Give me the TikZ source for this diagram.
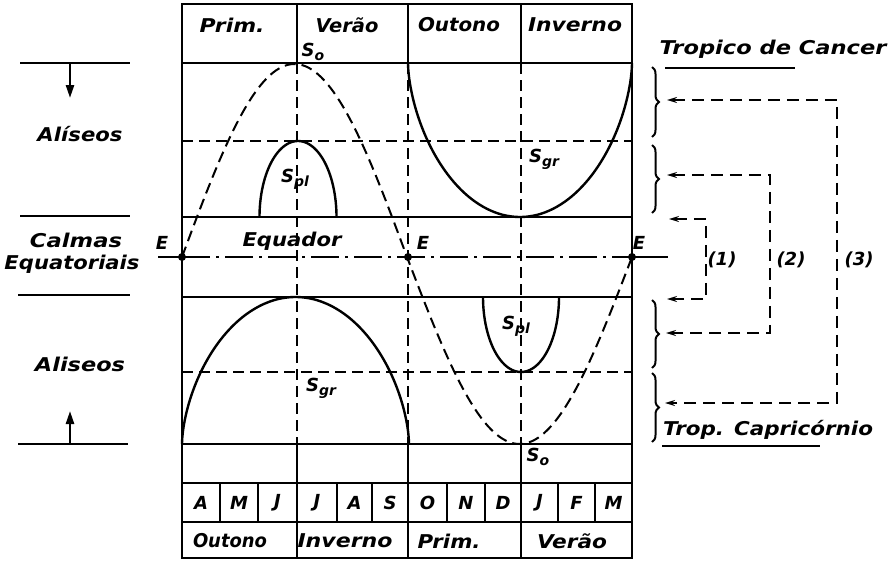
\documentclass[tikz,border=0pt]{standalone}
\usepackage{fontspec}
\setmainfont{DejaVu Sans}
\usetikzlibrary{decorations.pathreplacing,arrows.meta}
\newcommand{\rw}[2]{\resizebox{#1pt}{\height}{#2}}
\newcommand{\Ssub}[1]{S\raisebox{-4pt}{\fontsize{14}{14}\selectfont #1}}
\begin{document}
\begin{tikzpicture}[x=1pt,y=-1pt,
  frame/.style={line width=2.3pt},
  dsh/.style={line width=2pt,dash pattern=on 11pt off 6pt},
  eqline/.style={line width=2pt,dash pattern=on 28pt off 6pt on 3pt off 6pt},
  curve/.style={line width=2.4pt},
  lbl/.style={font=\fontsize{19}{21}\selectfont\bfseries\itshape, inner sep=0pt},
  slbl/.style={font=\fontsize{18}{20}\selectfont\bfseries\itshape, inner sep=0pt},
  mlbl/.style={font=\fontsize{18}{20}\selectfont\bfseries\itshape, inner sep=0pt},
  arr/.style={line width=2pt, dash pattern=on 12pt off 7pt, {Stealth[length=10pt,width=6pt]}-{Stealth[length=10pt,width=6pt]}},
  sarr/.style={line width=2.4pt, -{Triangle[length=13pt,width=8pt]}},
  brc/.style={line width=2pt, decorate, decoration={brace, amplitude=7pt}},
  dot/.style={circle, fill=black, inner sep=0pt, minimum size=8pt}
]
\useasboundingbox (0,0) rectangle (888,560);

% ---- frame and grid ----
\draw[frame] (182,4) rectangle (632,558);
\foreach \yy in {63,217,297,444,483,522} \draw[frame] (182,\yy) -- (632,\yy);
\foreach \yy in {141,372} \draw[dsh] (182,\yy) -- (632,\yy);
\foreach \xx in {297,408,521} {
  \draw[frame] (\xx,4) -- (\xx,63);
  \draw[dsh] (\xx,63) -- (\xx,444);
  \draw[frame] (\xx,444) -- (\xx,558);
}
\foreach \xx in {220,258,337,372,447,485,558,595} \draw[frame] (\xx,483) -- (\xx,522);

% ---- equator ----
\coordinate (E1) at (182,257);
\coordinate (E2) at (408,257);
\coordinate (E3) at (632,257);
\coordinate (EL) at (158,257);
\coordinate (ER) at (668,257);
\draw[eqline] (E1) -- (E3);
\draw[frame] (EL) -- (E1);
\draw[frame] (E3) -- (ER);

% ---- curves ----
\draw[dsh] plot[domain=182:632, samples=150, smooth] (\x, {257 - (\x<407 ? 193 : 187)*sin((\x-182)/450*360)});
% top S_pl
\draw[curve] plot[domain=-90:90, samples=60, smooth, variable=\t] ({298+38.5*sin(\t)}, {141+76*(1-cos(\t))});
% top S_gr
\draw[curve] plot[domain=-89.9:89.9, samples=90, smooth, variable=\t] ({520+112*sin(\t)}, {217-154*(1-pow(cos(\t),1.2))});
% bottom S_gr
\draw[curve] plot[domain=-89.9:89.9, samples=90, smooth, variable=\t] ({295.5+113.5*sin(\t)}, {297+147*(1-pow(cos(\t),1.2))});
% bottom S_pl
\draw[curve] plot[domain=-90:90, samples=60, smooth, variable=\t] ({521+38*sin(\t)}, {372-75*(1-cos(\t))});

\node[dot] (d1) at (E1) {};
\node[dot] (d2) at (E2) {};
\node[dot] (d3) at (E3) {};

% ---- labels inside ----
\node[lbl] (h1) at (232,25) {\rw{65}{Prim.}};
\node[lbl] (h2) at (347,25) {\rw{63}{Verão}};
\node[lbl] (h3) at (459,25) {\rw{82}{Outono}};
\node[lbl] (h4) at (575,25) {\rw{94}{Inverno}};
\node[lbl] (b1) at (230,541) {\rw{74}{Outono}};
\node[lbl] (b2) at (345,541) {\rw{95}{Inverno}};
\node[lbl] (b3) at (449,541) {\rw{63}{Prim.}};
\node[lbl] (b4) at (572,541) {\rw{70}{Verão}};
\foreach \xx/\m [count=\i] in {201/A,239/M,277.5/J,317/J,354.5/A,390/S,427.5/O,466/N,503/D,539.5/J,576.5/F,613.5/M}
  \node[mlbl] (m\i) at (\xx,503) {\m};
\node[lbl] (equ) at (292,241) {\rw{99}{Equador}};
\node[slbl] (eA) at (162,243) {E};
\node[slbl] (eB) at (423,243) {E};
\node[slbl] (eC) at (639,243) {E};
\node[slbl] (so1) at (313,52) {\Ssub{o}};
\node[slbl] (spl1) at (295,179) {\Ssub{pl}};
\node[slbl] (sgr1) at (544,159) {\Ssub{gr}};
\node[slbl] (sgr2) at (321,388) {\Ssub{gr}};
\node[slbl] (spl2) at (516,326) {\Ssub{pl}};
\node[slbl] (so2) at (538,457) {\Ssub{o}};

% ---- left side ----
\coordinate (L1a) at (20,63);  \coordinate (L1b) at (130,63);
\coordinate (L2a) at (20,216); \coordinate (L2b) at (130,216);
\coordinate (L3a) at (18,295); \coordinate (L3b) at (130,295);
\coordinate (L4a) at (18,444); \coordinate (L4b) at (128,444);
\draw[frame] (L1a) -- (L1b);
\draw[frame] (L2a) -- (L2b);
\draw[frame] (L3a) -- (L3b);
\draw[frame] (L4a) -- (L4b);
\coordinate (A1s) at (70,63);  \coordinate (A1e) at (70,98);
\coordinate (A2s) at (70,444); \coordinate (A2e) at (70,411);
\draw[sarr] (A1s) -- (A1e);
\draw[sarr] (A2s) -- (A2e);
\node[lbl] (al1) at (80,134) {\rw{85}{Alíseos}};
\node[lbl] (cal) at (76,240) {\rw{92}{Calmas}};
\node[lbl] (eqt) at (72,264) {\rw{135}{Equatoriais}};
\node[lbl] (al2) at (80,364) {\rw{90}{Aliseos}};

% ---- right side ----
\node[lbl] (tc) at (773,49) {\rw{227}{Tropico de Cancer}};
\draw[frame] (665,68) -- (795,68);
\node[lbl] (tcp) at (768,430) {\rw{210}{Trop. Capricórnio}};
\draw[frame] (662,446) -- (820,446);

\draw[brc] (652,67) -- (652,137);
\draw[brc] (652,145) -- (652,213);
\draw[brc] (652,300) -- (652,368);
\draw[brc] (652,373) -- (652,442);

\coordinate (T1) at (667,100); \coordinate (C3a) at (837,100);
\coordinate (C3b) at (837,403); \coordinate (T6) at (665,403);
\coordinate (T2) at (667,175); \coordinate (C2a) at (770,175);
\coordinate (C2b) at (770,333); \coordinate (T5) at (666,333);
\coordinate (T3) at (669,219); \coordinate (C1a) at (706,219);
\coordinate (C1b) at (706,299); \coordinate (T4) at (667,299);
\draw[arr] (T1) -- (C3a) -- (C3b) -- (T6);
\draw[arr] (T2) -- (C2a) -- (C2b) -- (T5);
\draw[arr] (T3) -- (C1a) -- (C1b) -- (T4);
\node[slbl] (n1) at (722,260) {(1)};
\node[slbl] (n2) at (791,260) {(2)};
\node[slbl] (n3) at (859,260) {(3)};
\end{tikzpicture}
\end{document}
